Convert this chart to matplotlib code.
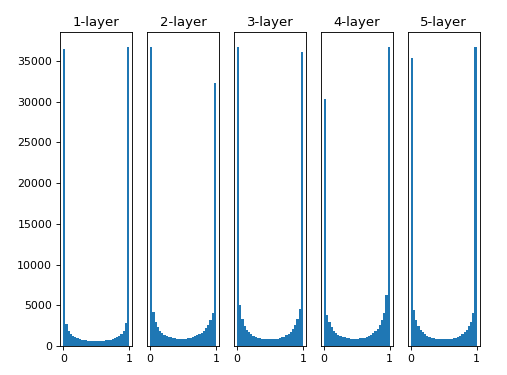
import numpy as np
import matplotlib.pyplot as plt

titles = ["1-layer", "2-layer", "3-layer", "4-layer", "5-layer"]

# counts per bin (30 bins over 0..1)
layer1 = [36500, 2700, 1800, 1450, 1200, 1050, 950, 860, 790, 730,
          690, 660, 640, 620, 610, 610, 620, 640, 660, 690,
          730, 790, 860, 950, 1080, 1250, 1500, 1900, 2800, 36700]
layer2 = [36600, 4200, 3000, 2300, 1900, 1600, 1400, 1250, 1150, 1050,
          1000, 950, 900, 880, 870, 880, 900, 950, 1000, 1080,
          1180, 1300, 1450, 1650, 1900, 2200, 2600, 3200, 4000, 32200]
layer3 = [36600, 5000, 3300, 2500, 2000, 1700, 1450, 1250, 1100, 1000,
          950, 900, 870, 850, 850, 850, 860, 880, 920, 980,
          1050, 1150, 1300, 1500, 1750, 2100, 2600, 3300, 4500, 36000]
layer4 = [30300, 3800, 2900, 2300, 1900, 1600, 1400, 1250, 1150, 1050,
          1000, 950, 920, 900, 900, 910, 930, 970, 1020, 1100,
          1200, 1350, 1550, 1800, 2100, 2600, 3200, 4100, 6300, 36600]
layer5 = [35300, 4400, 3200, 2500, 2000, 1700, 1450, 1250, 1100, 1000,
          930, 880, 840, 820, 810, 810, 820, 840, 880, 930,
          1000, 1100, 1250, 1450, 1700, 2000, 2400, 3000, 4000, 36600]
layers = [layer1, layer2, layer3, layer4, layer5]

edges = np.linspace(0, 1, 31)
centers = (edges[:-1] + edges[1:]) / 2

fig = plt.figure(figsize=(507 / 79.2, 375 / 79.2), dpi=79.2)
for i, counts in enumerate(layers):
    ax = plt.subplot(1, 5, i + 1)
    ax.hist(centers, bins=edges, weights=counts)
    ax.set_title(titles[i])
    ax.set_xticks([0, 1])
    if i != 0:
        ax.set_yticks([])
    else:
        ax.set_yticks(np.arange(0, 35001, 5000))

plt.subplots_adjust(left=0.1183, right=0.9467, bottom=0.0773, top=0.9139, wspace=0.2)
plt.savefig("out.png", dpi=79.2)
